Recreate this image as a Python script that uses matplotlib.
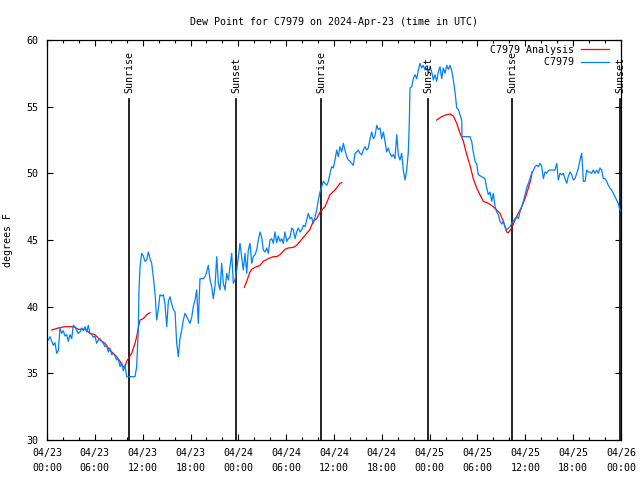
import matplotlib
matplotlib.use("Agg")
from matplotlib import pyplot as plt
from matplotlib.ticker import MultipleLocator

plt.rcParams['font.family'] = ['DejaVu Sans Mono']
plt.rcParams['font.size'] = 7.2

# hours since 2024-04-23 00:00 UTC
obs_hours = [0.16, 0.38, 0.59, 0.79, 1.00, 1.22, 1.42, 1.63, 1.84, 2.04, 2.26, 2.47, 2.67, 2.89, 3.10,
             3.30, 3.51, 3.73, 3.93, 4.14, 4.35, 4.55, 4.77, 4.98, 5.18, 5.39, 5.61, 5.81, 6.02, 6.23,
             6.44, 6.65, 6.86, 7.06, 7.28, 7.49, 7.69, 7.90, 8.12, 8.32, 8.53, 8.74, 8.94, 9.16, 9.37,
             9.57, 9.78, 10.00, 11.04, 11.25, 11.45, 11.54, 11.67, 11.88, 12.08, 12.29, 12.51, 12.71,
             12.92, 13.13, 13.33, 13.55, 13.76, 13.96, 14.17, 14.39, 14.59, 14.80, 15.02, 15.22, 15.43,
             15.64, 15.84, 16.06, 16.27, 16.47, 16.68, 16.90, 17.10, 17.31, 17.52, 17.72, 17.94, 18.15,
             18.35, 18.57, 18.78, 18.98, 19.19, 19.61, 19.82, 20.03, 20.23, 20.45, 20.66, 20.86, 21.08,
             21.29, 21.49, 21.70, 21.91, 22.12, 22.33, 22.54, 22.74, 22.96, 23.17, 23.37, 23.58, 23.80,
             24.00, 24.21, 24.42, 24.62, 24.84, 25.05, 25.25, 25.46, 25.68, 25.88, 26.09, 26.30, 26.51,
             26.72, 26.93, 27.13, 27.35, 27.56, 27.76, 27.97, 28.19, 28.39, 28.60, 28.81, 29.01, 29.23,
             29.44, 29.64, 29.85, 30.07, 30.27, 30.48, 30.70, 30.90, 31.11, 31.32, 31.52, 31.74, 31.95,
             32.15, 32.36, 32.58, 32.78, 32.99, 33.20, 33.40, 33.62, 33.83, 34.03, 34.25, 34.46, 34.66,
             34.87, 35.09, 35.29, 35.50, 35.71, 35.91, 36.13, 36.34, 36.54, 36.75, 36.97, 37.17, 37.38,
             37.59, 37.80, 38.01, 38.22, 38.42, 38.64, 38.85, 39.05, 39.26, 39.48, 39.68, 39.89, 40.10,
             40.30, 40.52, 40.73, 40.93, 41.14, 41.36, 41.56, 41.77, 41.98, 42.19, 42.40, 42.61, 42.81,
             43.03, 43.24, 43.44, 43.65, 43.87, 44.07, 44.28, 44.49, 44.69, 44.91, 45.12, 45.32, 45.45,
             45.53, 45.75, 45.95, 46.16, 46.38, 46.58, 46.79, 47.00, 47.20, 47.42, 47.63, 47.83, 48.04,
             48.26, 48.46, 48.67, 48.88, 49.08, 49.30, 49.51, 49.71, 49.93, 50.14, 50.34, 50.55, 50.77,
             50.97, 51.18, 51.39, 51.59, 51.81, 52.02, 52.06, 52.65, 53.06, 53.27, 53.47, 53.69, 53.90,
             54.10, 54.94, 55.15, 55.36, 55.57, 55.78, 55.98, 56.20, 56.41, 56.61, 56.82, 57.04, 57.24,
             57.45, 57.66, 57.87, 58.08, 58.29, 58.49, 58.71, 58.92, 59.12, 59.33, 59.55, 59.75, 59.96,
             60.17, 60.38, 60.59, 60.80, 61.00, 61.22, 61.43, 61.63, 61.84, 62.06, 62.26, 62.47, 62.68,
             62.89, 63.10, 63.31, 63.51, 63.72, 63.94, 64.14, 64.35, 64.56, 64.77, 64.98, 65.19, 65.40,
             65.61, 65.82, 66.02, 66.23, 66.45, 66.65, 66.86, 67.07, 67.28, 67.49, 67.70, 67.90, 68.11,
             68.33, 68.53, 68.74, 68.95, 69.16, 69.37, 69.58, 69.78, 69.99, 70.21, 70.41, 70.62, 70.83,
             71.04, 71.25, 71.46, 71.66, 71.79, 71.94]
obs_dewpt = [37.5, 37.75, 37.4, 37.1, 37.3, 36.5, 36.7, 38.4, 38.0, 38.2, 37.8, 37.9, 37.4, 37.9, 37.6,
             38.6, 38.5, 38.2, 38.0, 38.1, 38.4, 38.2, 38.5, 38.1, 38.6, 38.0, 37.9, 37.7, 37.8, 37.25,
             37.5, 37.6, 37.4, 37.25, 37.0, 37.1, 36.6, 36.9, 36.4, 36.5, 36.3, 36.0, 36.1, 35.5, 35.8,
             35.2, 35.6, 34.75, 34.75, 35.5, 38.25, 41.25, 43.0, 44.0, 43.8, 43.4, 43.5, 44.1,
             43.6, 43.25, 42.25, 41.0, 39.0, 39.8, 40.9, 40.8, 40.9, 40.2, 38.5, 40.4, 40.75,
             40.2, 39.8, 39.6, 37.25, 36.25, 37.6, 38.25, 39.0, 39.5, 39.25, 39.0, 38.75, 39.2,
             40.0, 40.5, 41.25, 38.75, 42.1, 42.1, 42.25, 42.6, 43.1, 42.0, 41.5, 40.6, 41.6,
             43.75, 41.75, 41.25, 43.25, 41.75, 41.25, 42.5, 42.0, 43.0, 44.0, 41.75, 42.0, 42.75,
             43.75, 44.75, 43.75, 42.75, 44.0, 42.5, 44.25, 44.75, 43.25, 43.75, 43.9, 44.25, 45.0,
             45.6, 45.2, 44.25, 44.1, 44.4, 44.0, 45.0, 45.1, 44.75, 45.6, 44.8, 45.3, 44.9,
             45.1, 44.75, 45.6, 44.9, 45.1, 45.2, 45.9, 45.75, 45.1, 45.6, 45.9, 45.6, 45.75,
             46.1, 46.0, 46.5, 47.0, 46.6, 46.7, 46.25, 46.7, 47.25, 48.0, 48.6, 49.0, 49.4,
             49.25, 49.1, 49.4, 50.0, 50.5, 50.4, 51.0, 51.75, 51.25, 52.0, 51.6, 52.25, 51.75,
             51.25, 51.0, 50.9, 50.75, 50.6, 51.5, 51.6, 51.75, 51.5, 51.4, 51.75, 52.0, 51.75,
             51.9, 52.6, 53.1, 52.6, 52.8, 53.6, 53.3, 53.4, 52.6, 53.1, 52.4, 51.6, 51.9,
             51.5, 51.25, 51.4, 51.1, 52.9, 51.4, 51.0, 51.5, 50.25, 49.5, 50.25, 51.6, 53.9,
             56.4, 56.5, 57.1, 57.4, 57.1, 57.75, 58.25, 57.9, 58.1, 57.75, 57.9, 57.5, 58.0,
             57.6, 57.0, 57.4, 56.9, 57.6, 58.0, 57.1, 57.9, 57.5, 58.1, 57.8, 58.1, 57.7,
             57.0, 56.1, 54.9, 54.8, 54.4, 54.0, 52.75, 52.75, 52.75, 52.4, 51.6, 50.9, 50.7,
             49.9, 49.6, 48.9, 48.4, 48.6, 47.9, 48.5, 47.5, 47.1, 46.9, 46.4, 46.2, 46.4,
             46.0, 45.75, 45.9, 46.0, 46.25, 46.4, 46.6, 46.75, 46.6, 47.1, 47.5, 47.9, 48.4,
             48.9, 49.25, 49.6, 50.0, 50.2, 50.5, 50.6, 50.5, 50.75, 50.5, 49.6, 50.1, 50.0,
             50.2, 50.25, 50.25, 50.25, 50.25, 50.75, 49.5, 50.0, 49.9, 50.0, 49.6, 49.25, 49.8,
             50.1, 49.9, 49.5, 49.6, 50.0, 50.4, 51.0, 51.5, 49.4, 49.4, 50.25, 50.1, 50.1,
             50.0, 50.25, 50.0, 50.25, 50.0, 50.4, 50.25, 49.6, 49.6, 49.4, 49.1, 48.9, 48.75,
             48.5, 48.25, 48.0, 47.75, 47.4, 47.2]

# analysis, three separate runs
ana1_hours = [0.59, 1.42, 2.26, 3.10, 3.51, 3.93, 4.77, 5.39, 6.02, 6.65, 7.28, 7.69, 8.12, 8.74,
              9.16, 9.57, 9.78, 10.00, 10.20, 10.62, 11.04, 11.25, 11.45, 11.67, 12.08, 12.51, 12.92]
ana1_dewpt = [38.25, 38.4, 38.5, 38.5, 38.45, 38.3, 38.3, 38.0, 37.9, 37.5, 37.25, 36.9, 36.6, 36.25,
              35.9, 35.5, 35.5, 35.9, 36.1, 36.5, 37.25, 37.75, 38.4, 39.0, 39.1, 39.4, 39.55]
ana2_hours = [24.75, 25.05, 25.46, 25.68, 26.09, 26.72, 27.13, 27.76, 28.39, 28.81, 29.23, 29.85,
              30.27, 30.90, 31.32, 31.74, 32.58, 32.99, 33.40, 33.83, 34.25, 34.87, 35.50, 36.13,
              36.75, 36.97]
ana2_dewpt = [41.45, 41.9, 42.6, 42.8, 42.95, 43.1, 43.4, 43.6, 43.75, 43.75, 43.9, 44.3,
              44.4, 44.45, 44.6, 44.9, 45.5, 45.8, 46.4, 46.6, 47.1, 47.5, 48.4, 48.75,
              49.25, 49.3]
ana3_hours = [48.88, 49.51, 50.14, 50.55, 50.97, 51.39, 51.81, 52.23, 52.65, 53.06, 53.47, 53.90,
              54.31, 54.73, 55.36, 55.98, 56.41, 56.82, 57.24, 57.66, 57.87, 58.29, 58.71, 59.12,
              59.55, 59.96, 60.38, 60.71, 60.84]
ana3_dewpt = [54.0, 54.25, 54.4, 54.45, 54.3, 53.75, 53.0, 52.4, 51.4, 50.6, 49.6, 48.9,
              48.4, 47.9, 47.75, 47.5, 47.25, 47.0, 46.4, 45.6, 45.55, 45.9, 46.5, 47.0,
              47.5, 48.1, 48.9, 49.6, 50.1]

sun_hours = [10.29, 23.71, 34.37, 47.79, 58.33, 71.9]
sun_names = ['Sunrise', 'Sunset', 'Sunrise', 'Sunset', 'Sunrise', 'Sunset']

tick_hours = list(range(0, 73, 6))
tick_labels = ['04/23\n00:00', '04/23\n06:00', '04/23\n12:00', '04/23\n18:00',
               '04/24\n00:00', '04/24\n06:00', '04/24\n12:00', '04/24\n18:00',
               '04/25\n00:00', '04/25\n06:00', '04/25\n12:00', '04/25\n18:00',
               '04/26\n00:00']

RED = '#ff0000'
BLUE = '#0080ff'

fig = plt.figure(figsize=(6.4, 4.8), dpi=100)
ax = fig.add_axes([47/640, 40/480, 574/640, 400/480])

for h, name in zip(sun_hours, sun_names):
    ax.plot([h, h], [30, 55.6], color='black', lw=1.2, zorder=1)
    ax.text(h, 56.0, name, rotation=90, ha='center', va='bottom', fontsize=7.2)

ax.plot(ana1_hours, ana1_dewpt, color=RED, lw=0.9, label='C7979 Analysis')
ax.plot(ana2_hours, ana2_dewpt, color=RED, lw=0.9)
ax.plot(ana3_hours, ana3_dewpt, color=RED, lw=0.9)
ax.plot(obs_hours, obs_dewpt, color=BLUE, lw=0.9, label='         C7979')

ax.set_xlim(0, 72)
ax.set_ylim(30, 60)
ax.set_xticks(tick_hours)
ax.set_xticklabels(tick_labels, linespacing=1.6)
ax.xaxis.set_minor_locator(MultipleLocator(2))
ax.yaxis.set_major_locator(MultipleLocator(5))
ax.tick_params(which='both', direction='in', top=True, right=True, width=0.8)
ax.tick_params(which='major', length=4.5, pad=6)
ax.tick_params(which='minor', length=2.5)
for s in ax.spines.values():
    s.set_linewidth(0.9)

ax.set_ylabel('degrees F', labelpad=10)
ax.set_title('Dew Point for C7979 on 2024-Apr-23 (time in UTC)', pad=11, fontsize=7.2)

ax.legend(loc='upper right', bbox_to_anchor=(0.988, 1.0), frameon=False, markerfirst=False,
          handlelength=2.8, handletextpad=0.7, labelspacing=0.25, borderaxespad=0.1,
          fontsize=7.2)

plt.savefig('out.png', dpi=100)
